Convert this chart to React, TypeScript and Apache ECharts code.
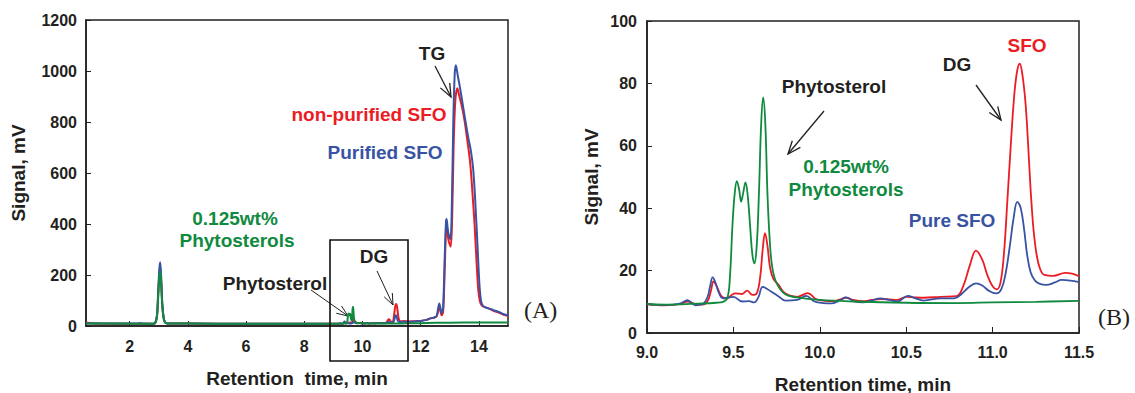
import React, { useEffect, useRef } from "react";
import * as echarts from "echarts";

type Pt = [number, number];

// ---- Panel (A) early part (0.5 – 9 min) ----
const redEarly: Pt[] = [[0.5, 14], [0.7, 11], [1.0, 9.5], [2.0, 9.2], [2.8, 9], [2.88, 12], [2.94, 40], [2.98, 120], [3.02, 205], [3.05, 226], [3.08, 185], [3.12, 85], [3.17, 30], [3.22, 14], [3.3, 10], [4.0, 9.5], [6.0, 9], [8.0, 8.8], [8.95, 9.1]];
const blueEarly: Pt[] = [[0.5, 10], [1.0, 9.5], [2.3, 9.5], [2.36, 12], [2.43, 9.5], [2.8, 9], [2.88, 13], [2.94, 45], [2.98, 135], [3.02, 225], [3.05, 250], [3.08, 200], [3.12, 92], [3.17, 32], [3.22, 14], [3.3, 10], [4.0, 9.5], [6.0, 9], [8.0, 8.8], [8.95, 9.1]];
const greenEarly: Pt[] = [[0.5, 10], [1.0, 9.5], [2.0, 9.2], [2.8, 9], [2.88, 12], [2.94, 38], [2.98, 115], [3.02, 195], [3.05, 215], [3.08, 175], [3.12, 80], [3.17, 28], [3.22, 13], [3.3, 10], [4.0, 9.5], [6.0, 9], [8.0, 8.8], [8.95, 9.1]];

// ---- Detail region (9.0 – 11.5 min), also panel (B) ----
const redDetail: Pt[] = [[9.0, 9.2], [9.05, 9.0], [9.1, 8.9], [9.15, 9.0], [9.2, 9.4], [9.235, 10.1], [9.28, 9.3], [9.32, 9.1], [9.35, 10.2], [9.37, 13.5], [9.385, 16.5], [9.405, 14.8], [9.43, 11.8], [9.46, 11.0], [9.49, 12.2], [9.51, 12.7], [9.55, 12.5], [9.58, 13.6], [9.61, 12.2], [9.635, 12.7], [9.655, 18], [9.67, 27], [9.683, 32], [9.697, 28], [9.712, 21], [9.73, 17.5], [9.76, 15.5], [9.8, 12.7], [9.87, 11.6], [9.93, 12.8], [9.98, 10.8], [10.03, 10.3], [10.08, 10.2], [10.12, 10.8], [10.15, 11.3], [10.2, 10.5], [10.25, 10.2], [10.3, 10.6], [10.35, 10.9], [10.4, 10.8], [10.45, 10.6], [10.5, 11.6], [10.55, 11.4], [10.6, 11.3], [10.7, 11.6], [10.79, 11.8], [10.83, 15], [10.87, 22], [10.904, 26.4], [10.94, 23.5], [10.97, 18.5], [11.0, 15], [11.024, 14], [11.045, 16], [11.065, 25], [11.085, 42], [11.105, 60], [11.125, 76], [11.142, 84], [11.157, 86.3], [11.172, 83], [11.19, 74], [11.205, 61], [11.22, 46], [11.237, 33], [11.255, 25], [11.275, 20.5], [11.3, 18.6], [11.35, 18.3], [11.42, 19.3], [11.46, 19], [11.5, 18.2]];
const blueDetail: Pt[] = [[9.0, 9.3], [9.05, 9.0], [9.1, 9.0], [9.15, 9.1], [9.2, 9.6], [9.233, 10.5], [9.28, 8.9], [9.32, 9.2], [9.35, 11.5], [9.365, 15], [9.38, 17.8], [9.397, 16], [9.415, 13], [9.44, 11.1], [9.5, 11.6], [9.55, 10.1], [9.59, 10.2], [9.62, 9.8], [9.645, 11.5], [9.67, 14.8], [9.72, 13.2], [9.76, 11.8], [9.8, 10.4], [9.87, 10.6], [9.92, 11.9], [9.97, 10.1], [10.02, 9.6], [10.07, 9.5], [10.12, 10.6], [10.15, 11.4], [10.2, 10.1], [10.25, 9.8], [10.3, 10.4], [10.35, 11.1], [10.4, 10.6], [10.45, 10.1], [10.51, 11.9], [10.55, 11.2], [10.6, 10.4], [10.7, 11.1], [10.78, 11.1], [10.82, 12.5], [10.86, 14.6], [10.904, 15.9], [10.94, 15.2], [10.98, 13.5], [11.02, 12.7], [11.05, 14], [11.075, 19], [11.1, 28], [11.122, 37], [11.143, 42], [11.163, 40], [11.183, 33], [11.2, 25], [11.22, 19.5], [11.245, 16.8], [11.27, 15.8], [11.31, 15.4], [11.36, 16.2], [11.4, 17], [11.45, 16.8], [11.5, 16.3]];
const greenDetail: Pt[] = [[9.0, 9.3], [9.1, 9.1], [9.2, 9.2], [9.3, 9.4], [9.4, 9.7], [9.44, 10], [9.465, 11.2], [9.48, 18], [9.495, 35], [9.508, 45], [9.52, 48.7], [9.533, 46], [9.545, 42.1], [9.557, 45], [9.57, 48.3], [9.583, 44], [9.597, 34], [9.61, 25], [9.622, 22.3], [9.635, 28], [9.648, 45], [9.66, 66], [9.672, 75.5], [9.684, 68], [9.697, 44.8], [9.71, 30], [9.725, 21], [9.75, 16], [9.8, 12.4], [9.87, 11.4], [10.0, 10.6], [10.2, 10.1], [10.5, 9.7], [10.8, 9.6], [11.0, 9.8], [11.25, 10.0], [11.5, 10.3]];

// ---- Panel (A) late part (11.5 – 15 min, TG) ----
const redLate: Pt[] = [[11.6, 18], [11.8, 19], [12.0, 20], [12.2, 24], [12.35, 30], [12.45, 32], [12.55, 38], [12.6, 58], [12.64, 75], [12.68, 58], [12.72, 42], [12.77, 55], [12.82, 200], [12.87, 380], [12.9, 395], [12.95, 340], [13.03, 311], [13.08, 420], [13.13, 700], [13.19, 885], [13.26, 932], [13.32, 905], [13.4, 868], [13.5, 810], [13.6, 730], [13.7, 640], [13.78, 520], [13.85, 400], [13.92, 250], [13.98, 140], [14.04, 95], [14.1, 80], [14.2, 74], [14.35, 68], [14.5, 60], [14.7, 52], [14.85, 44], [15.0, 40]];
const blueLate: Pt[] = [[11.6, 16.5], [11.8, 18], [12.0, 20], [12.2, 24], [12.35, 31], [12.45, 33], [12.55, 40], [12.6, 70], [12.64, 88], [12.68, 70], [12.72, 50], [12.77, 70], [12.82, 250], [12.87, 410], [12.89, 420], [12.94, 370], [13.02, 340], [13.07, 470], [13.12, 800], [13.17, 990], [13.21, 1023], [13.27, 985], [13.35, 935], [13.45, 865], [13.55, 795], [13.65, 730], [13.72, 690], [13.8, 620], [13.87, 500], [13.95, 320], [14.02, 160], [14.08, 95], [14.15, 78], [14.3, 70], [14.5, 62], [14.7, 54], [14.85, 46], [15.0, 42]];
const greenLate: Pt[] = [[11.6, 10.4], [12.0, 11], [12.5, 12.5], [13.0, 13], [14.0, 13.5], [15.0, 14]];

const xTicksA = [2, 4, 6, 8, 10, 12, 14];

const RED = "#ec1c24";
const BLUE = "#3953a4";
const GREEN = "#0f8a3f";
const INK = "#231f20";
const FONT = "'Liberation Sans', Arial, sans-serif";

function arrow(x1: number, y1: number, x2: number, y2: number, head = 13, w = 1.3) {
  const a = Math.atan2(y2 - y1, x2 - x1);
  const sp = (22 * Math.PI) / 180;
  const h1 = [x2 - head * Math.cos(a - sp), y2 - head * Math.sin(a - sp)];
  const h2 = [x2 - head * Math.cos(a + sp), y2 - head * Math.sin(a + sp)];
  return {
    type: "group",
    children: [
      { type: "line", shape: { x1, y1, x2, y2 }, style: { stroke: INK, lineWidth: w } },
      { type: "polyline", shape: { points: [h1, [x2, y2], h2] }, style: { stroke: INK, lineWidth: w, fill: null } },
    ],
  };
}

function label(text: string, x: number, y: number, color: string, size = 19) {
  return {
    type: "text",
    x,
    y,
    style: { text, fill: color, font: `bold ${size}px ${FONT}`, textAlign: "center", textVerticalAlign: "middle" },
  };
}

export default function App() {
  const ref = useRef<HTMLDivElement>(null);
  useEffect(() => {
    document.body.style.margin = "0";
    const chart = echarts.init(ref.current!, null, { renderer: "svg" });
    const axisLbl = { color: INK, fontSize: 16, fontWeight: "bold", fontFamily: FONT };
    const line = (data: Pt[], color: string, xi: number, w: number, sm: number) => ({
      type: "line",
      data,
      xAxisIndex: xi,
      yAxisIndex: xi,
      showSymbol: false,
      symbol: "none",
      smooth: sm,
      lineStyle: { color, width: w },
      itemStyle: { color },
      z: 2,
    });
    chart.setOption({
      animation: false,
      grid: [
        { left: 86, top: 20, width: 422, height: 306, show: true, borderColor: INK, borderWidth: 1.5, backgroundColor: "transparent" },
        { left: 647, top: 21, width: 432, height: 312, show: true, borderColor: INK, borderWidth: 1.5, backgroundColor: "transparent" },
      ],
      xAxis: [
        {
          type: "value", gridIndex: 0, min: 0.5, max: 15,
          axisLine: { show: true, lineStyle: { color: INK, width: 1.5 } },
          axisTick: { show: true, inside: true, length: 5, customValues: xTicksA, lineStyle: { color: INK } },
          axisLabel: { ...axisLbl, margin: 12, customValues: xTicksA },
          splitLine: { show: false },
        },
        {
          type: "value", gridIndex: 1, min: 9, max: 11.5, interval: 0.5,
          axisLine: { show: true, lineStyle: { color: INK, width: 1.5 } },
          axisTick: { show: true, inside: true, length: 6, lineStyle: { color: INK } },
          axisLabel: { ...axisLbl, margin: 11, formatter: (v: number) => v.toFixed(1) },
          splitLine: { show: false },
        },
      ],
      yAxis: [
        {
          type: "value", gridIndex: 0, min: 0, max: 1200, interval: 200,
          axisLine: { show: true, lineStyle: { color: INK, width: 1.5 } },
          axisTick: { show: true, inside: true, length: 5, lineStyle: { color: INK } },
          axisLabel: { ...axisLbl, margin: 9, formatter: (v: number) => String(v) },
          splitLine: { show: false },
        },
        {
          type: "value", gridIndex: 1, min: 0, max: 100, interval: 20,
          axisLine: { show: true, lineStyle: { color: INK, width: 1.5 } },
          axisTick: { show: true, inside: true, length: 5, lineStyle: { color: INK } },
          axisLabel: { ...axisLbl, margin: 10, formatter: (v: number) => String(v) },
          splitLine: { show: false },
        },
      ],
      series: [
        line([...redEarly, ...redDetail, ...redLate], RED, 0, 2, 0.3),
        line([...blueEarly, ...blueDetail, ...blueLate], BLUE, 0, 2, 0.3),
        line([...greenEarly, ...greenDetail, ...greenLate], GREEN, 0, 2, 0.3),
        line(redDetail, RED, 1, 1.8, 0.4),
        line(blueDetail, BLUE, 1, 1.8, 0.4),
        line(greenDetail, GREEN, 1, 1.8, 0.4),
      ],
      graphic: [
        // axis titles
        label("Retention  time, min", 297, 378, INK),
        { ...label("Signal, mV", 18, 173, INK), rotation: Math.PI / 2 },
        label("Retention time, min", 863, 384, INK),
        { ...label("Signal, mV", 591, 177, INK), rotation: Math.PI / 2 },
        // panel A annotations
        label("TG", 432, 53, INK),
        arrow(435, 66, 451, 97, 14),
        label("non-purified SFO", 369, 114, RED),
        label("Purified SFO", 385, 152, BLUE),
        label("0.125wt%", 235, 218, GREEN),
        label("Phytosterols", 237, 240, GREEN),
        label("Phytosterol", 275, 283, INK),
        arrow(311, 290, 348, 316, 12, 1),
        label("DG", 374, 256, INK),
        arrow(377, 271, 393, 305, 12, 1),
        { type: "rect", z: 10, shape: { x: 330, y: 240, width: 78, height: 121 }, style: { stroke: "#111", lineWidth: 1.6, fill: null } },
        { type: "text", x: 524, y: 310, style: { text: "(A)", fill: INK, font: "24px 'Liberation Serif', 'Times New Roman', serif", textAlign: "left", textVerticalAlign: "middle" } },
        // panel B annotations
        label("Phytosterol", 834, 86, INK),
        arrow(824, 111, 788, 154, 14),
        label("0.125wt%", 846, 166, GREEN),
        label("Phytosterols", 846, 189, GREEN),
        label("DG", 957, 64, INK),
        arrow(976, 85, 1001, 120, 14),
        label("SFO", 1027, 45, RED),
        label("Pure SFO", 952, 220, BLUE),
        { type: "text", x: 1098, y: 317, style: { text: "(B)", fill: INK, font: "24px 'Liberation Serif', 'Times New Roman', serif", textAlign: "left", textVerticalAlign: "middle" } },
      ],
    });
    return () => chart.dispose();
  }, []);
  return <div ref={ref} style={{ width: 1135, height: 393 }} />;
}
